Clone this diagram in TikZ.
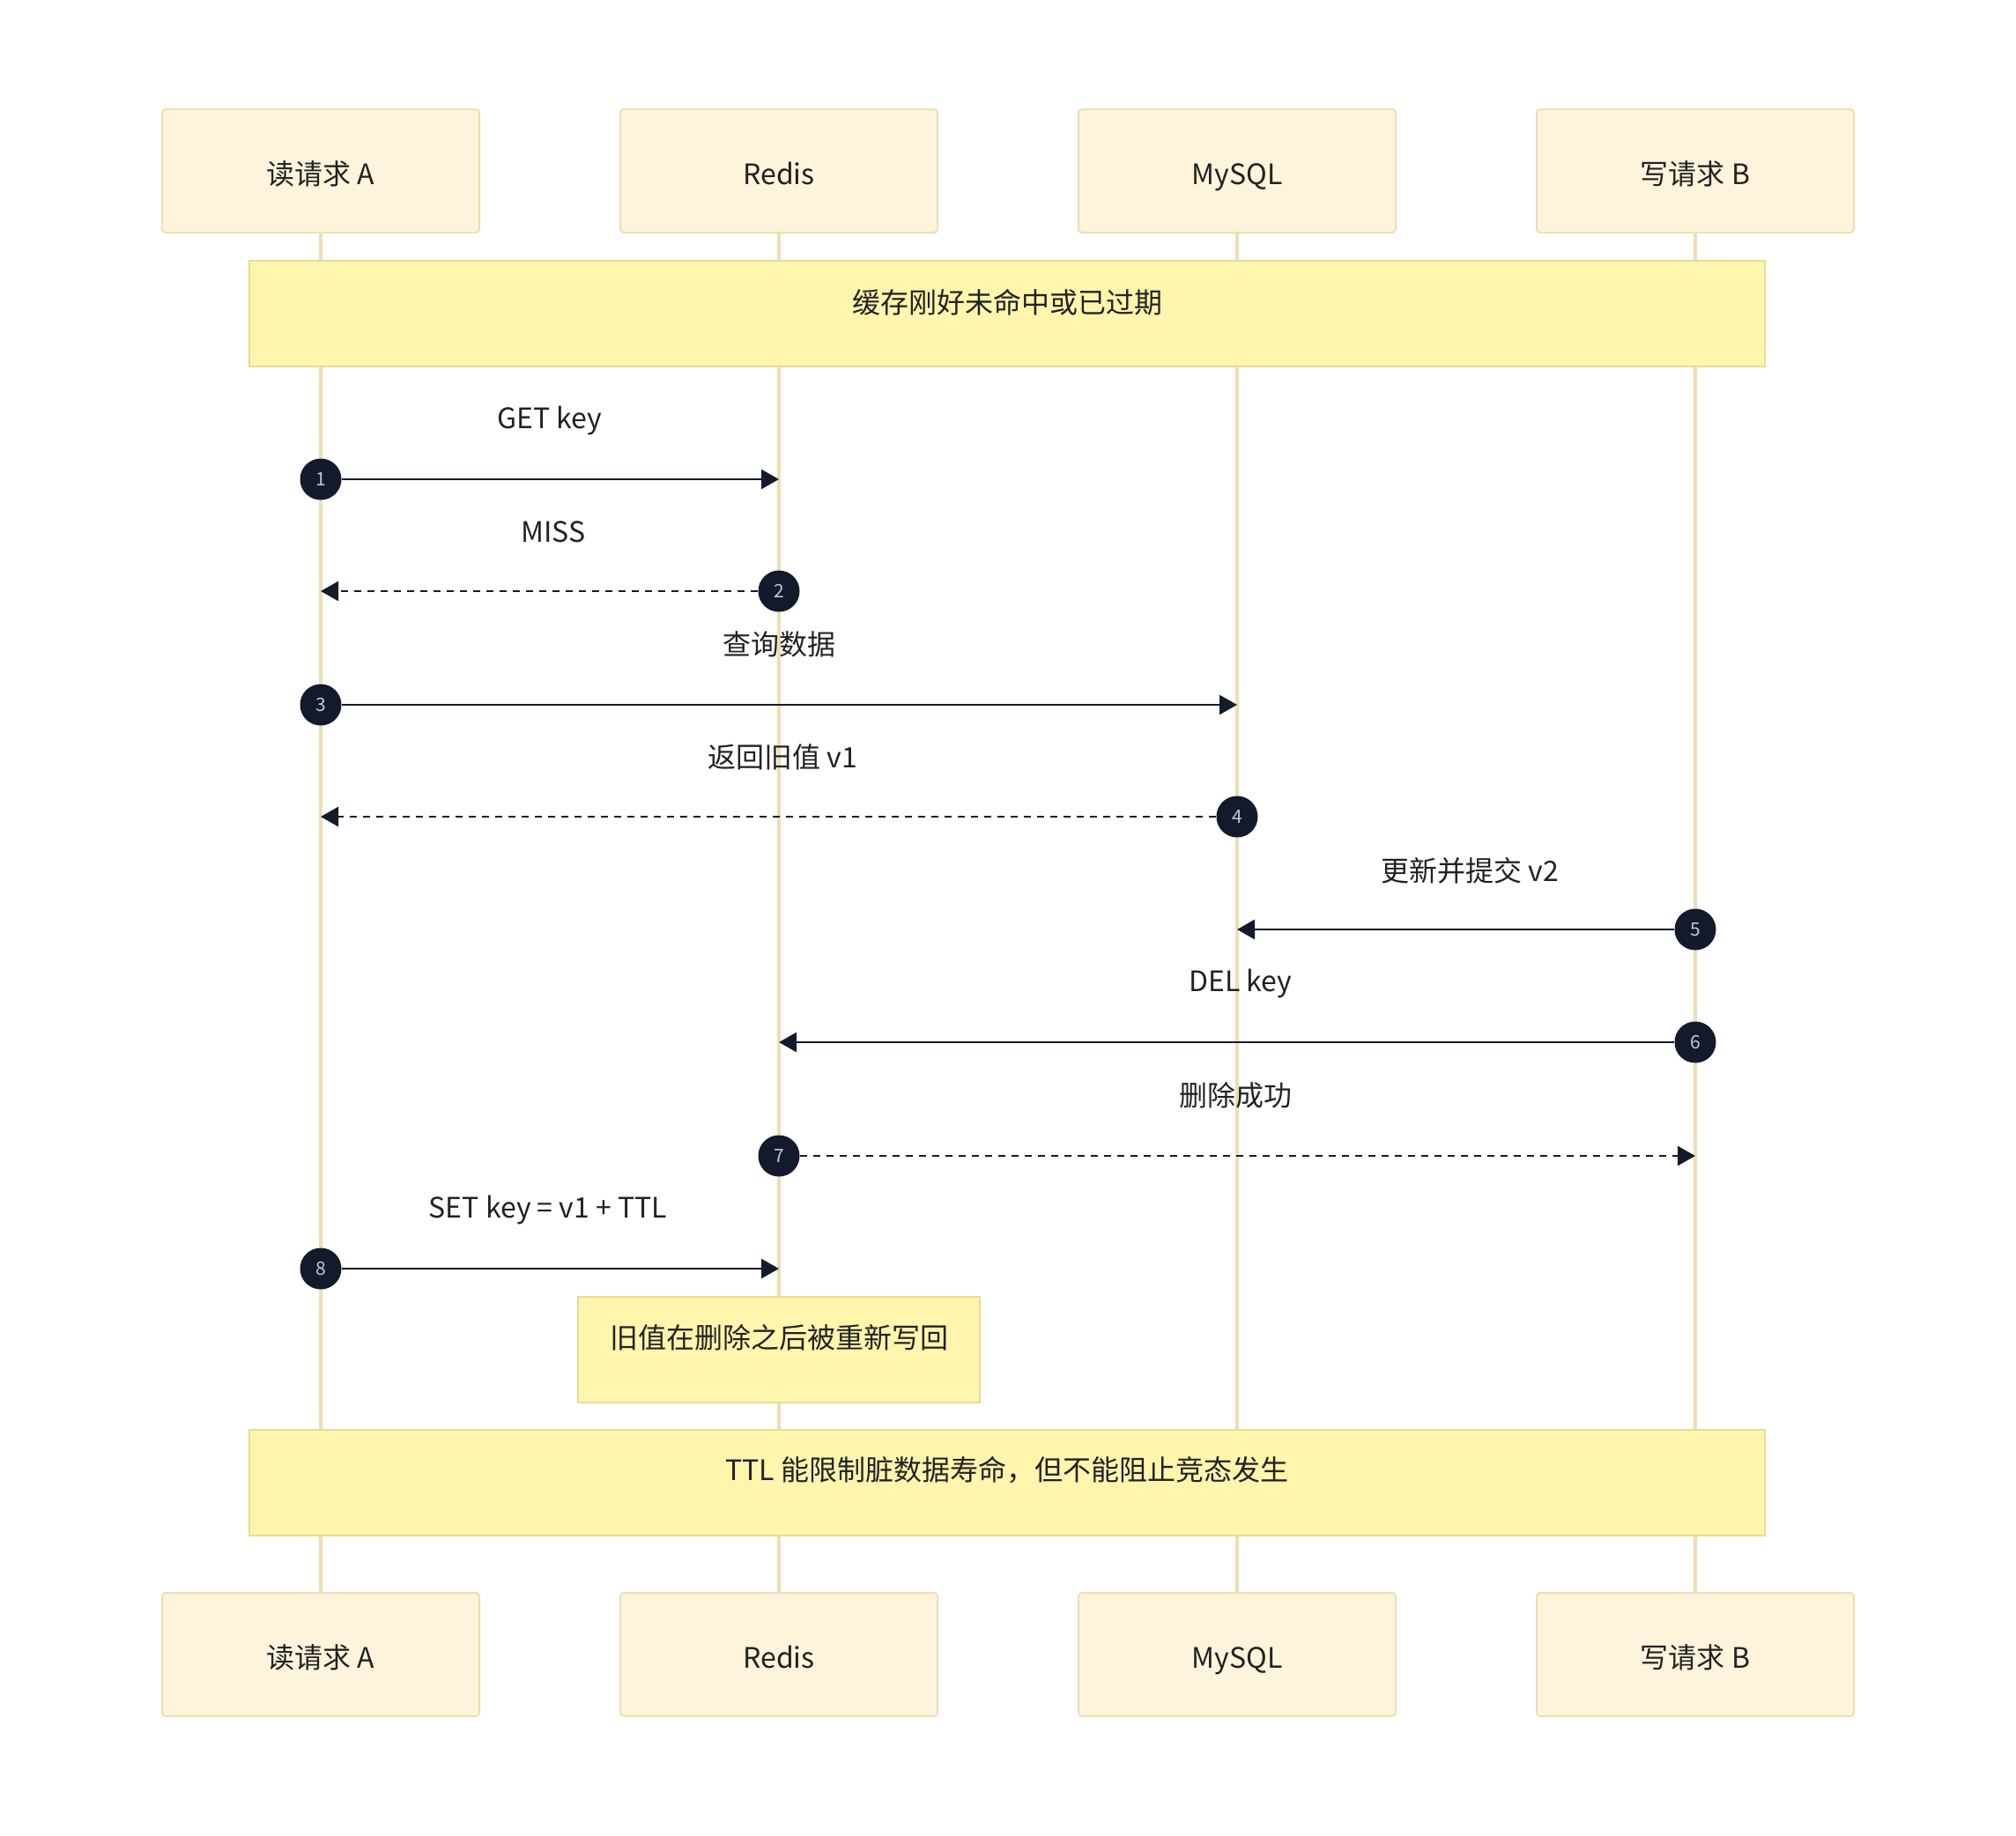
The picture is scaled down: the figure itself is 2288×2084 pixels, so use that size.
\documentclass[tikz,border=0pt]{standalone}
\usepackage{fontspec}
\setmainfont{Noto Sans CJK SC}
\usetikzlibrary{arrows.meta}
\definecolor{actfill}{HTML}{FEF4DC}
\definecolor{actline}{HTML}{EEDFB2}
\definecolor{lifec}{HTML}{EEDDB5}
\definecolor{notefill}{HTML}{FFF5AD}
\definecolor{noteline}{HTML}{E6DC94}
\definecolor{ink}{HTML}{131A2B}
\definecolor{txt}{HTML}{222222}
\definecolor{numtxt}{HTML}{C8C8C8}
\tikzset{
  actor/.style={draw=actline, fill=actfill, line width=1pt, rounded corners=2pt,
    minimum width=180pt, minimum height=70pt, font=\fontsize{16pt}{19pt}\selectfont, text=txt,
    text height=15pt, text depth=0pt},
  life/.style={draw=lifec, line width=1.8pt},
  notebox/.style={draw=noteline, fill=notefill, line width=1pt, minimum height=60pt},
  notetext/.style={font=\fontsize{16pt}{19pt}\selectfont, text=txt},
  msglabel/.style={font=\fontsize{16pt}{19pt}\selectfont, text=txt},
  num/.style={circle, fill=ink, minimum size=23.5pt, inner sep=0pt,
    font=\fontsize{10.5pt}{12pt}\selectfont, text=numtxt},
  msg/.style={draw=ink, line width=1.3pt, -{Triangle[length=10pt,width=11pt]}},
  reply/.style={msg, dash pattern=on 4pt off 3.5pt},
}
\begin{document}
\begin{tikzpicture}[x=0.5pt,y=-0.5pt]
\useasboundingbox (0,0) rectangle (2288,2084);
% actors
\node[actor] (ta) at (364,194) {读请求 A};
\node[actor] (tr) at (884,194) {Redis};
\node[actor] (tm) at (1404,194) {MySQL};
\node[actor] (tb) at (1924,194) {写请求 B};
\node[actor] (ba) at (364,1878) {读请求 A};
\node[actor] (br) at (884,1878) {Redis};
\node[actor] (bm) at (1404,1878) {MySQL};
\node[actor] (bb) at (1924,1878) {写请求 B};
% lifelines
\draw[life] (ta.south) -- (ba.north);
\draw[life] (tr.south) -- (br.north);
\draw[life] (tm.south) -- (bm.north);
\draw[life] (tb.south) -- (bb.north);
% notes
\node[notebox, minimum width=860pt] (n1) at (1143,356) {};
\node[notetext] (n1t) at (1143,343) {缓存刚好未命中或已过期};
\node[notebox, minimum width=228pt] (n2) at (884,1532) {};
\node[notetext] (n2t) at (884,1518) {旧值在删除之后被重新写回};
\node[notebox, minimum width=860pt] (n3) at (1143,1683) {};
\node[notetext] (n3t) at (1143,1669) {TTL 能限制脏数据寿命，但不能阻止竞态发生};
% lifeline points
\coordinate (r1) at (884,544);
\coordinate (a2) at (364,671);
\coordinate (m3) at (1404,800);
\coordinate (a4) at (364,927);
\coordinate (m5) at (1404,1055);
\coordinate (r6) at (884,1183);
\coordinate (b7) at (1924,1312);
\coordinate (r8) at (884,1440);
% messages
\node[msglabel] (l1) at (624,477) {GET key};
\node[num] (c1) at (364,544) {1};
\draw[msg] (c1.east) -- (r1);

\node[msglabel] (l2) at (628,604) {MISS};
\node[num] (c2) at (884,671) {2};
\draw[reply] (c2.west) -- (a2);

\node[msglabel] (l3) at (884,731) {查询数据};
\node[num] (c3) at (364,800) {3};
\draw[msg] (c3.east) -- (m3);

\node[msglabel] (l4) at (888,859) {返回旧值 v1};
\node[num] (c4) at (1404,927) {4};
\draw[reply] (c4.west) -- (a4);

\node[msglabel] (l5) at (1668,988) {更新并提交 v2};
\node[num] (c5) at (1924,1055) {5};
\draw[msg] (c5.west) -- (m5);

\node[msglabel] (l6) at (1408,1116) {DEL key};
\node[num] (c6) at (1924,1183) {6};
\draw[msg] (c6.west) -- (r6);

\node[msglabel] (l7) at (1402,1243) {删除成功};
\node[num] (c7) at (884,1312) {7};
\draw[reply] (c7.east) -- (b7);

\node[msglabel] (l8) at (622,1373) {SET key = v1 + TTL};
\node[num] (c8) at (364,1440) {8};
\draw[msg] (c8.east) -- (r8);
\end{tikzpicture}
\end{document}
